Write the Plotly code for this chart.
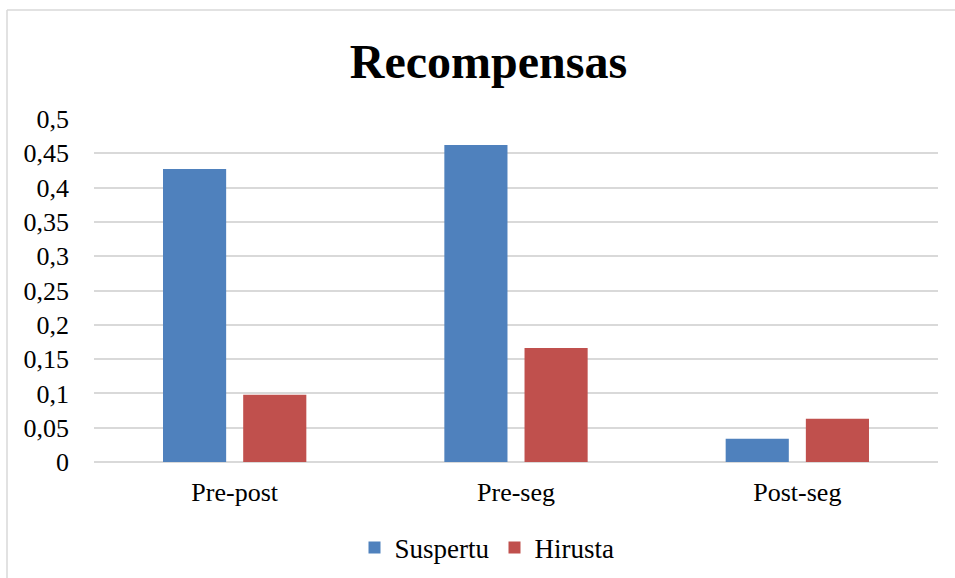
import plotly.graph_objects as go

# Reward scores per comparison period
categories = ["Pre-post", "Pre-seg", "Post-seg"]
suspertu = [0.427, 0.462, 0.034]
hirusta = [0.098, 0.166, 0.063]

# Y axis ticks (comma decimal separator)
tick_values = [0, 0.05, 0.1, 0.15, 0.2, 0.25, 0.3, 0.35, 0.4, 0.45, 0.5]
tick_labels = ["0", "0,05", "0,1", "0,15", "0,2", "0,25", "0,3", "0,35", "0,4", "0,45", "0,5"]

FONT = "Liberation Serif"
GRID = "#D9D9D9"

fig = go.Figure()
fig.add_trace(go.Bar(name="Suspertu", x=categories, y=suspertu,
                     marker=dict(color="#4F81BD", line=dict(width=0))))
fig.add_trace(go.Bar(name="Hirusta", x=categories, y=hirusta,
                     marker=dict(color="#C0504D", line=dict(width=0))))

W, H = 955, 578
ml, mr, mt, mb = 94, 17, 119, 116
pw, ph = W - ml - mr, H - mt - mb

def px_x(px):
    return (px - ml) / pw

def px_y(py):
    return (H - mb - py) / ph

fig.update_layout(
    width=W, height=H,
    margin=dict(l=ml, r=mr, t=mt, b=mb, pad=0, autoexpand=False),
    paper_bgcolor="white", plot_bgcolor="white",
    barmode="group", bargap=0.43, bargroupgap=0.2125,
    font=dict(family=FONT, size=26, color="black"),
    title=dict(text="<b>Recompensas</b>", x=488.5 / W, xanchor="center",
               xref="container", y=1 - 61 / H, yref="container", yanchor="middle",
               font=dict(family=FONT, size=48, color="black")),
    xaxis=dict(showgrid=False, showline=False, ticks="", automargin=False,
               tickfont=dict(family=FONT, size=26, color="black"),
               ticklabelstandoff=12),
    yaxis=dict(range=[0, 0.5], tickvals=tick_values, ticktext=tick_labels,
               showgrid=True, gridcolor=GRID, gridwidth=1.5, automargin=False,
               zeroline=True, zerolinecolor=GRID, zerolinewidth=1.5,
               showline=False, ticks="",
               tickfont=dict(family=FONT, size=26, color="black"),
               ticklabelstandoff=24),
    legend=dict(orientation="h", x=px_x(487), xanchor="center",
                y=1 - 548 / H, yref="container", yanchor="middle",
                font=dict(family=FONT, size=27, color="black"),
                bgcolor="rgba(0,0,0,0)"),
    shapes=[
        dict(type="line", xref="paper", yref="paper",
             x0=px_x(7), x1=px_x(7), y0=px_y(H + 5), y1=px_y(10),
             line=dict(color=GRID, width=1.5)),
        dict(type="line", xref="paper", yref="paper",
             x0=px_x(7), x1=px_x(W + 5), y0=px_y(10), y1=px_y(10),
             line=dict(color=GRID, width=1.5)),
    ],
)

fig.write_html("out.html")
